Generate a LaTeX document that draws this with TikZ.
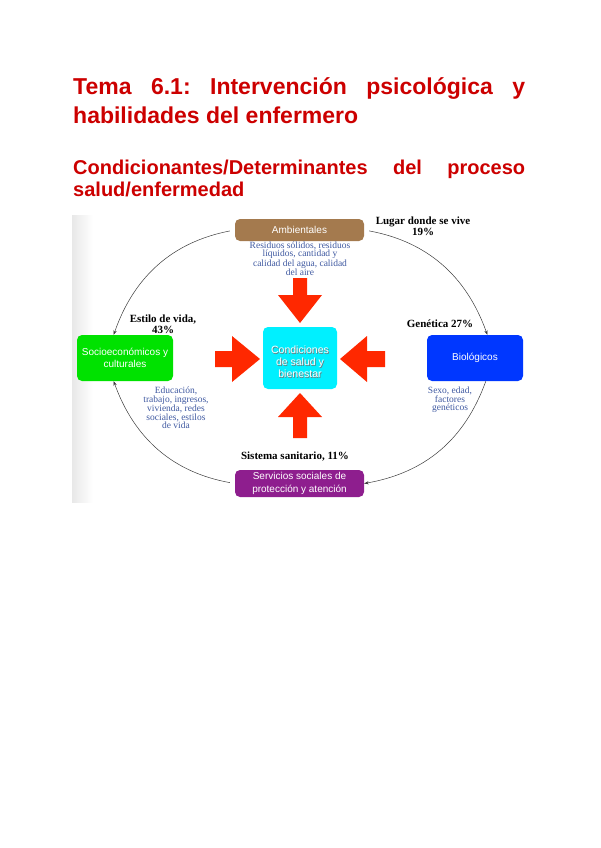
\documentclass[tikz,border=0pt]{standalone}
\usepackage{fontspec}
\setmainfont{Liberation Serif}
\newfontfamily\sansfam{Liberation Sans}
\usetikzlibrary{arrows.meta}
\frenchspacing

\definecolor{titlered}{RGB}{204,0,0}
\definecolor{ambbrown}{RGB}{164,122,78}
\definecolor{socgreen}{RGB}{0,226,0}
\definecolor{bioblue}{RGB}{0,55,255}
\definecolor{condcyan}{RGB}{0,240,255}
\definecolor{servpurple}{RGB}{142,30,142}
\definecolor{pushred}{RGB}{255,40,0}
\definecolor{notecol}{RGB}{62,88,160}
\definecolor{linkgray}{RGB}{60,60,60}

\begin{document}
\begin{tikzpicture}[
        x=1pt, y=-1pt,
        box/.style={rounded corners=5pt, inner sep=0pt, align=center, text=white,
            font=\sansfam\fontsize{10}{12.5}\selectfont},
        note/.style={align=center, inner sep=0pt, text=notecol,
            font=\fontsize{9.5}{8.4}\selectfont},
        share/.style={align=center, inner sep=0pt,
            font=\bfseries\fontsize{11}{10.5}\selectfont},
        link/.style={-{Stealth[length=4.5pt,width=3.2pt]}, draw=linkgray, line width=0.5pt},
        push/.style={fill=pushred}
    ]
    \useasboundingbox (0,0) rectangle (600,848);

    % Headings
    \node[anchor=north west, text width=452pt, align=justify, inner sep=0pt, text=titlered,
        font=\sansfam\bfseries\fontsize{23}{29}\selectfont] (title) at (73,77)
    {Tema 6.1: Intervención psicológica y\linebreak habilidades del enfermero};
    \node[anchor=north west, text width=452pt, align=justify, inner sep=0pt, text=titlered,
        font=\sansfam\bfseries\fontsize{20}{22}\selectfont] (subtitle) at (73,160)
    {Condicionantes/Determinantes del proceso\linebreak salud/enfermedad};

    % Grey edge of the scanned figure
    \shade[left color=black!9, right color=white] (72,215) rectangle (93,502);

    % Boxes
    \node[box, fill=ambbrown, minimum width=129pt, minimum height=22pt] (amb) at (299.5,230) {Ambientales};
    \node[box, fill=socgreen, minimum width=96pt, minimum height=46pt] (soc) at (125,358) {Socioeconómicos y\\culturales};
    \node[box, fill=bioblue, minimum width=96pt, minimum height=46pt] (bio) at (475,358) {Biológicos};
    \node[box, fill=servpurple, minimum width=129pt, minimum height=27pt] (serv) at (299.5,483.5) {Servicios sociales de\\protección y atención};

    % Centre box, white text with a dark shadow
    \node[box, fill=condcyan, minimum width=74pt, minimum height=62pt] (cond) at (300,358) {};
    \node[box, text=black!55, font=\sansfam\fontsize{10.5}{12}\selectfont] (condshade) at (300.7,362.7)
    {Condiciones\\de salud y\\bienestar};
    \node[box, font=\sansfam\fontsize{10.5}{12}\selectfont] (condlabel) at (300,362)
    {Condiciones\\de salud y\\bienestar};

    % Red block arrows towards the centre
    \fill[push] (293,278) -- (307,278) -- (307,295) -- (322,295) -- (300,323) -- (278,295) -- (293,295) -- cycle;
    \fill[push] (293,438) -- (307,438) -- (307,417) -- (322,417) -- (300,393) -- (278,417) -- (293,417) -- cycle;
    \fill[push] (215,351) -- (232,351) -- (232,336) -- (260,359) -- (232,382) -- (232,367) -- (215,367) -- cycle;
    \fill[push] (385,351) -- (367,351) -- (367,336) -- (340,359) -- (367,382) -- (367,367) -- (385,367) -- cycle;

    % Curved links
    \draw[link, shorten <=5pt] (amb.west) to[bend right=30] (soc.116);
    \draw[link, shorten <=5pt] (amb.east) to[bend left=30] (bio.62);
    \draw[link] (bio.295) to[bend left=30] (serv.east);
    \draw[link, shorten <=5pt] (serv.west) to[bend left=30] (soc.244);

    % Descriptions
    \node[note, anchor=north] (ambnote) at (300,241.5)
    {Residuos sólidos, residuos\\líquidos, cantidad y\\calidad del agua, calidad\\del aire};
    \node[note, anchor=north] (socnote) at (176,387)
    {Educación,\\trabajo, ingresos,\\vivienda, redes\\sociales, estilos\\de vida};
    \node[note, anchor=north] (bionote) at (450,387)
    {Sexo, edad,\\factores\\genéticos};

    % Shares
    \node[share, anchor=north] (lugar) at (423,217) {Lugar donde se vive\\19\%};
    \node[share, anchor=north] (estilo) at (163,315) {Estilo de vida,\\43\%};
    \node[share, anchor=north] (genetica) at (440,320) {Genética 27\%};
    \node[share, anchor=north] (sistema) at (295,452) {Sistema sanitario, 11\%};

\end{tikzpicture}
\end{document}
